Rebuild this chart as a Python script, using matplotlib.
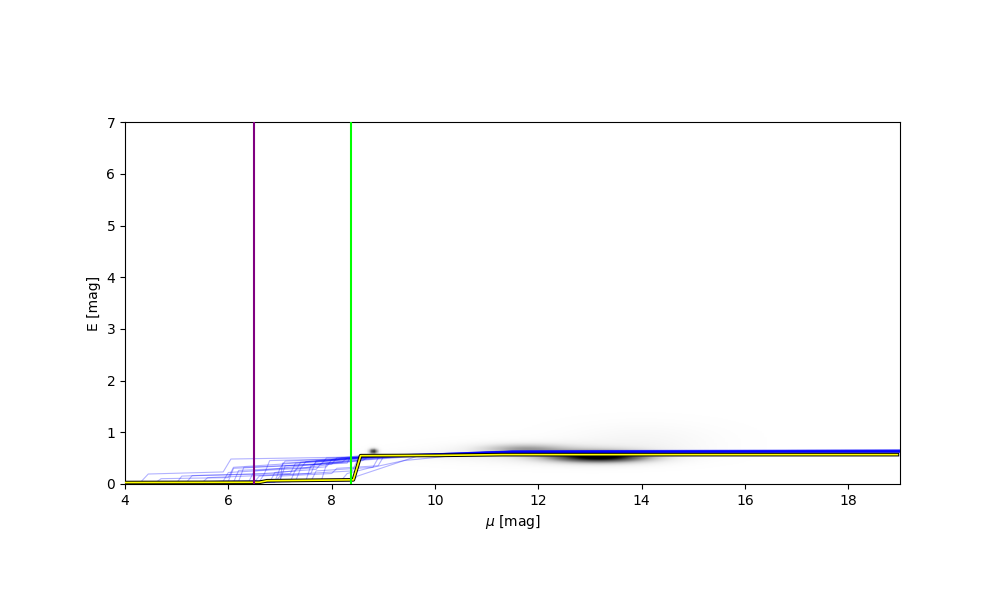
import numpy as np
import matplotlib
matplotlib.use("Agg")
import matplotlib.pyplot as plt
import matplotlib.patheffects as pe

# density blobs of the reddening probability (mu, E, widths, amplitude)
blob_mu = [13.2, 11.7, 12.4, 14.0, 10.0, 8.8]
blob_E = [0.52, 0.68, 0.60, 0.85, 0.56, 0.63]
blob_smu = [0.7, 0.6, 1.3, 1.0, 0.8, 0.06]
blob_sE = [0.08, 0.07, 0.13, 0.22, 0.06, 0.04]
blob_amp = [1.0, 0.35, 0.2, 0.07, 0.07, 0.9]

# sampled reddening profiles
samples = [
    ([4.0, 4.3, 4.45, 5.9, 6.05, 8.5, 9.0, 10.5, 11.5, 19.0], [0.02, 0.03, 0.19, 0.23, 0.48, 0.52, 0.56, 0.58, 0.62, 0.63]),
    ([4.0, 5.0, 5.1, 6.7, 6.8, 8.0, 8.6, 10.0, 11.5, 19.0], [0.01, 0.02, 0.15, 0.2, 0.45, 0.48, 0.55, 0.57, 0.61, 0.615]),
    ([4.0, 6.6, 6.7, 7.3, 7.4, 8.4, 8.9, 10.0, 11.5, 19.0], [0.02, 0.04, 0.2, 0.25, 0.42, 0.5, 0.56, 0.58, 0.63, 0.645]),
    ([4.0, 6.0, 6.1, 7.8, 7.9, 8.7, 9.5, 11.0, 19.0], [0.0, 0.05, 0.3, 0.38, 0.5, 0.53, 0.57, 0.61, 0.62]),
    ([4.0, 7.0, 7.1, 8.2, 8.3, 9.0, 10.0, 11.5, 19.0], [0.02, 0.06, 0.35, 0.42, 0.5, 0.55, 0.58, 0.64, 0.66]),
    ([4.0, 5.5, 5.6, 7.6, 7.7, 8.8, 10.0, 11.5, 19.0], [0.02, 0.03, 0.12, 0.2, 0.45, 0.5, 0.57, 0.62, 0.635]),
    ([4.0, 6.9, 7.0, 8.0, 8.1, 8.9, 9.0, 10.0, 11.5, 19.0], [0.02, 0.03, 0.15, 0.2, 0.3, 0.35, 0.52, 0.56, 0.61, 0.61]),
    ([4.0, 8.4, 8.5, 9.7, 11.5, 19.0], [0.02, 0.06, 0.15, 0.55, 0.62, 0.64]),
    ([4.0, 6.4, 6.5, 7.0, 7.1, 8.5, 9.0, 10.5, 11.5, 19.0], [0.03, 0.05, 0.25, 0.3, 0.44, 0.5, 0.55, 0.58, 0.63, 0.65]),
    ([4.0, 7.2, 7.3, 7.9, 8.0, 8.6, 9.5, 11.0, 19.0], [0.01, 0.04, 0.28, 0.33, 0.47, 0.5, 0.56, 0.62, 0.625]),
    ([4.0, 6.2, 6.3, 8.3, 8.35, 9.2, 10.5, 11.5, 19.0], [0.02, 0.05, 0.32, 0.4, 0.5, 0.54, 0.58, 0.61, 0.61]),
    ([4.0, 7.5, 7.6, 8.5, 8.6, 9.8, 11.5, 19.0], [0.03, 0.06, 0.36, 0.45, 0.52, 0.56, 0.63, 0.64]),
    ([4.0, 4.6, 4.7, 6.0, 6.1, 7.0, 8.6, 10.0, 11.5, 19.0], [0.02, 0.03, 0.1, 0.12, 0.32, 0.38, 0.5, 0.57, 0.61, 0.62]),
    ([4.0, 6.8, 6.9, 7.7, 7.8, 8.9, 9.9, 11.5, 19.0], [0.02, 0.03, 0.22, 0.28, 0.4, 0.48, 0.55, 0.64, 0.655]),
    ([4.0, 8.2, 8.3, 8.7, 9.4, 10.5, 11.5, 19.0], [0.02, 0.08, 0.2, 0.3, 0.45, 0.56, 0.61, 0.615]),
    ([4.0, 5.9, 6.0, 7.4, 7.5, 8.0, 9.0, 10.5, 11.5, 19.0], [0.02, 0.05, 0.22, 0.3, 0.43, 0.47, 0.54, 0.58, 0.62, 0.63]),
    ([4.0, 7.0, 7.05, 8.1, 8.2, 9.3, 11.0, 19.0], [0.02, 0.04, 0.4, 0.46, 0.5, 0.55, 0.62, 0.645]),
    ([4.0, 6.5, 6.6, 8.4, 8.5, 9.0, 10.0, 11.5, 19.0], [0.02, 0.03, 0.15, 0.25, 0.46, 0.5, 0.56, 0.61, 0.62]),
    ([4.0, 7.3, 7.4, 8.0, 8.1, 9.1, 10.5, 11.5, 19.0], [0.02, 0.05, 0.3, 0.38, 0.5, 0.53, 0.57, 0.63, 0.635]),
    ([4.0, 6.1, 6.2, 7.6, 7.7, 8.5, 9.5, 11.5, 19.0], [0.01, 0.03, 0.26, 0.32, 0.42, 0.5, 0.56, 0.61, 0.625]),
    ([4.0, 7.8, 7.9, 8.6, 8.7, 9.6, 11.5, 19.0], [0.02, 0.06, 0.38, 0.45, 0.52, 0.57, 0.63, 0.65]),
    ([4.0, 6.9, 7.0, 8.3, 8.9, 10.0, 11.5, 19.0], [0.02, 0.04, 0.3, 0.45, 0.5, 0.57, 0.62, 0.63]),
    ([4.0, 5.2, 5.3, 7.2, 7.3, 8.1, 9.2, 11.0, 19.0], [0.02, 0.04, 0.16, 0.2, 0.4, 0.45, 0.54, 0.61, 0.62]),
    ([4.0, 7.6, 7.7, 8.8, 8.9, 9.8, 11.5, 19.0], [0.02, 0.05, 0.25, 0.32, 0.5, 0.56, 0.63, 0.64]),
]

# best-fit profile
best_mu = [4.0, 6.6, 6.75, 8.42, 8.56, 10.0, 11.3, 18.95]
best_E = [0.025, 0.03, 0.06, 0.077, 0.545, 0.55, 0.565, 0.565]

mu_min, mu_max = 4.0, 19.0
E_min, E_max = 0.0, 7.0
mu_lim1 = 6.5
mu_lim2 = 8.37

# build the density image from the blobs
mu_grid = np.linspace(mu_min, mu_max, 300)
E_grid = np.linspace(E_min, E_max, 1400)
MM, EE = np.meshgrid(mu_grid, E_grid)
img = np.zeros_like(MM)
for m, e, sm, se, a in zip(blob_mu, blob_E, blob_smu, blob_sE, blob_amp):
    img += a * np.exp(-0.5 * ((MM - m) / sm) ** 2 - 0.5 * ((EE - e) / se) ** 2)

fig = plt.figure(figsize=(10, 6), dpi=100)
ax = fig.add_subplot(111)

ax.imshow(img, origin='lower', extent=[mu_min, mu_max, E_min, E_max],
          cmap='Greys', vmin=0, vmax=img.max() * 0.9, aspect='equal',
          interpolation='bilinear')

for mu_s, E_s in samples:
    ax.plot(mu_s, E_s, color='blue', lw=0.8, alpha=0.3, zorder=3)

ax.plot(best_mu, best_E, color='yellow', lw=1.2, zorder=4,
        path_effects=[pe.Stroke(linewidth=2.6, foreground='k'), pe.Normal()])

ax.axvline(mu_lim1, color='purple', lw=1.5, zorder=5)
ax.axvline(mu_lim2, color='lime', lw=1.5, zorder=5)

ax.set_xlim(mu_min, mu_max)
ax.set_ylim(E_min, E_max)
ax.set_xlabel(r'$\mu$ [mag]')
ax.set_ylabel('E [mag]')

fig.savefig('out.png', dpi=100)
